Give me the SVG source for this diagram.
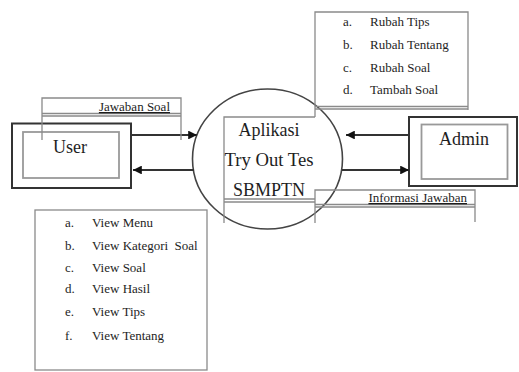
<svg xmlns="http://www.w3.org/2000/svg" width="519" height="372" viewBox="0 0 519 372">
<style>
text{font-family:"Liberation Serif","Times New Roman",serif;fill:#1e1e1e}
.lbl{fill:none;stroke:#8a8a8a;stroke-width:1.3}
.ent{fill:#fff;stroke:#333;stroke-width:2}
.inner{fill:none;stroke:#999;stroke-width:1.8}
.flow{fill:none;stroke:#333;stroke-width:2.2}
.big{font-size:18px}
.item{font-size:13px}
.fl{font-size:13px;text-decoration:underline}
</style>
<defs>
<marker id="ah" viewBox="0 0 10 10" refX="10" refY="5" markerWidth="4" markerHeight="4" orient="auto" markerUnits="strokeWidth">
<path d="M0,0 L10,5 L0,10 z" fill="#111"/>
</marker>
</defs>
<rect width="519" height="372" fill="#fff"/>

<g id="process">
<ellipse cx="267.5" cy="159" rx="75" ry="70" fill="none" stroke="#444" stroke-width="1.6"/>
<path class="lbl" d="M224,223 V117 H315 M224,199 H315 M224,202 H315"/>
<text class="big" x="269" y="136" text-anchor="middle">Aplikasi</text>
<text class="big" x="269" y="166" text-anchor="middle" textLength="89" lengthAdjust="spacingAndGlyphs">Try Out Tes</text>
<text class="big" x="269" y="196" text-anchor="middle">SBMPTN</text>
</g>

<g id="user">
<rect class="ent" x="12" y="123.5" width="119" height="64.5"/>
<rect class="inner" x="23" y="132" width="96" height="46"/>
<text class="big" x="70" y="153" text-anchor="middle">User</text>
</g>

<g id="admin">
<rect class="ent" x="409" y="117" width="108" height="69"/>
<rect class="inner" x="421.5" y="124.5" width="86" height="54.5"/>
<text class="big" x="464" y="145" text-anchor="middle">Admin</text>
</g>

<g id="connectors">
<line class="flow" x1="131" y1="135" x2="197" y2="135" marker-end="url(#ah)"/>
<line class="flow" x1="194" y1="170" x2="133" y2="170" marker-end="url(#ah)"/>
<line class="flow" x1="409" y1="135" x2="346" y2="135" marker-end="url(#ah)"/>
<line class="flow" x1="342" y1="170" x2="409" y2="170" marker-end="url(#ah)"/>
</g>

<g id="label-jawaban-soal">
<path class="lbl" d="M42,140 V98 H181 V140 M42,113.5 H181 M42,116 H181"/>
<text class="fl" x="170" y="111" text-anchor="end">Jawaban Soal</text>
</g>

<g id="label-informasi-jawaban">
<path class="lbl" d="M315,223 V190 H475 V222 M315,204.5 H475 M315,207 H475"/>
<text class="fl" x="467" y="202" text-anchor="end">Informasi Jawaban</text>
</g>

<g id="label-admin-list">
<path class="lbl" d="M315,117 V12 H468 V110 M315,106.5 H468 M315,109 H468"/>
<g class="item">
<text x="343" y="26">a.</text><text x="370" y="26">Rubah Tips</text>
<text x="343" y="49">b.</text><text x="370" y="49">Rubah Tentang</text>
<text x="343" y="72">c.</text><text x="370" y="72">Rubah Soal</text>
<text x="343" y="94">d.</text><text x="370" y="94">Tambah Soal</text>
</g>
</g>

<g id="label-user-list">
<rect class="lbl" x="35" y="210" width="172" height="160"/>
<g class="item">
<text x="65" y="227">a.</text><text x="92" y="227">View Menu</text>
<text x="65" y="250">b.</text><text x="92" y="250" xml:space="preserve">View Kategori  Soal</text>
<text x="65" y="272">c.</text><text x="92" y="272">View Soal</text>
<text x="65" y="293">d.</text><text x="92" y="293">View Hasil</text>
<text x="65" y="316">e.</text><text x="92" y="316">View Tips</text>
<text x="65" y="340">f.</text><text x="92" y="340">View Tentang</text>
</g>
</g>
</svg>
